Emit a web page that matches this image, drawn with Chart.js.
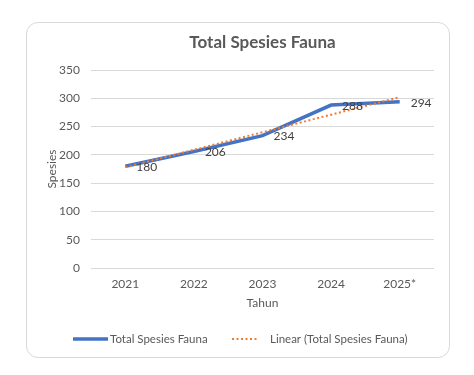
<!DOCTYPE html>
<html>
<head>
<meta charset="utf-8">
<script src="https://cdn.jsdelivr.net/npm/chart.js@4.4.1/dist/chart.umd.min.js"></script>
<style>
  html, body { margin: 0; padding: 0; background: #ffffff; }
  #card {
    position: absolute;
    left: 26px; top: 22px;
    width: 422px; height: 334px;
    border: 1px solid #d9d9d9;
    border-radius: 12px;
    background: #ffffff;
  }
  #chart { display: block; }
</style>
</head>
<body>
<div id="card"><canvas id="chart" width="422" height="334"></canvas></div>
<script>
// Chart data
const years = ['2021', '2022', '2023', '2024', '2025*'];
const totalSpecies = [180, 206, 234, 288, 294];
const linearTrend = [178, 209, 240, 271, 302];
const yTicks = [0, 50, 100, 150, 200, 250, 300, 350];

const chartTitle = 'Total Spesies Fauna';
const seriesName = 'Total Spesies Fauna';
const trendName = 'Linear (Total Spesies Fauna)';

const FONT = 'Lato, "Open Sans", sans-serif';
const TEXT = '#595959';
const BLUE = '#4472C4';
const ORANGE = '#ED7D31';

// Title centred over the plot area (Excel style)
const plotTitle = {
  id: 'plotTitle',
  afterDraw(chart) {
    const { ctx, chartArea } = chart;
    ctx.save();
    ctx.font = 'bold 17px ' + FONT;
    ctx.fillStyle = TEXT;
    ctx.textAlign = 'center';
    ctx.textBaseline = 'middle';
    ctx.fillText(chartTitle, (chartArea.left + chartArea.right) / 2, 20);
    ctx.restore();
  }
};

// Value labels to the right of each point
const valueLabels = {
  id: 'valueLabels',
  afterDatasetsDraw(chart) {
    const ctx = chart.ctx;
    const meta = chart.getDatasetMeta(1);
    ctx.save();
    ctx.font = '12px ' + FONT;
    ctx.fillStyle = '#404040';
    ctx.textAlign = 'left';
    ctx.textBaseline = 'middle';
    meta.data.forEach((pt, i) => {
      ctx.fillText(String(totalSpecies[i]), pt.x + 11, pt.y + 1);
    });
    ctx.restore();
  }
};

// Bottom legend with line samples
const bottomLegend = {
  id: 'bottomLegend',
  afterDraw(chart) {
    const ctx = chart.ctx;
    const y = 316;
    ctx.save();
    ctx.font = '11.5px ' + FONT;
    ctx.fillStyle = TEXT;
    ctx.textBaseline = 'middle';
    ctx.textAlign = 'left';

    ctx.strokeStyle = BLUE;
    ctx.lineWidth = 3.5;
    ctx.beginPath();
    ctx.moveTo(46, y);
    ctx.lineTo(81, y);
    ctx.stroke();
    ctx.fillText(seriesName, 83, y);

    ctx.strokeStyle = ORANGE;
    ctx.lineWidth = 2;
    ctx.setLineDash([2, 2.5]);
    ctx.beginPath();
    ctx.moveTo(205, y);
    ctx.lineTo(232, y);
    ctx.stroke();
    ctx.setLineDash([]);
    ctx.fillText(trendName, 243, y);
    ctx.restore();
  }
};

const ctx = document.getElementById('chart').getContext('2d');
new Chart(ctx, {
  type: 'line',
  data: {
    labels: years,
    datasets: [
      {
        label: trendName,
        data: linearTrend,
        borderColor: ORANGE,
        backgroundColor: ORANGE,
        borderWidth: 2,
        borderDash: [2, 2.5],
        pointRadius: 0,
        tension: 0
      },
      {
        label: seriesName,
        data: totalSpecies,
        borderColor: BLUE,
        backgroundColor: BLUE,
        borderWidth: 3.5,
        pointRadius: 0,
        tension: 0
      }
    ]
  },
  options: {
    responsive: false,
    animation: false,
    layout: { padding: { left: 18, right: 15, top: 47, bottom: 47 } },
    plugins: {
      title: { display: false },
      legend: { display: false },
      tooltip: { enabled: false }
    },
    scales: {
      x: {
        offset: true,
        afterFit(scale) { scale.height = 42; },
        grid: { display: false, drawTicks: false },
        border: { display: false },
        ticks: { color: TEXT, font: { family: FONT, size: 12 }, padding: 9 },
        title: {
          display: true,
          text: 'Tahun',
          color: TEXT,
          font: { family: FONT, size: 12 },
          padding: { top: 0, bottom: 0 }
        }
      },
      y: {
        min: 0,
        max: 350,
        afterFit(scale) { scale.width = 46; },
        afterBuildTicks(scale) {
          scale.ticks = yTicks.map(v => ({ value: v }));
        },
        grid: { color: '#d9d9d9', drawTicks: false },
        border: { display: false },
        ticks: { color: TEXT, font: { family: FONT, size: 12 }, padding: 11 },
        title: {
          display: true,
          text: 'Spesies',
          color: TEXT,
          font: { family: FONT, size: 12 },
          padding: { top: 0, bottom: 0 }
        }
      }
    }
  },
  plugins: [valueLabels, plotTitle, bottomLegend]
});
</script>
</body>
</html>
